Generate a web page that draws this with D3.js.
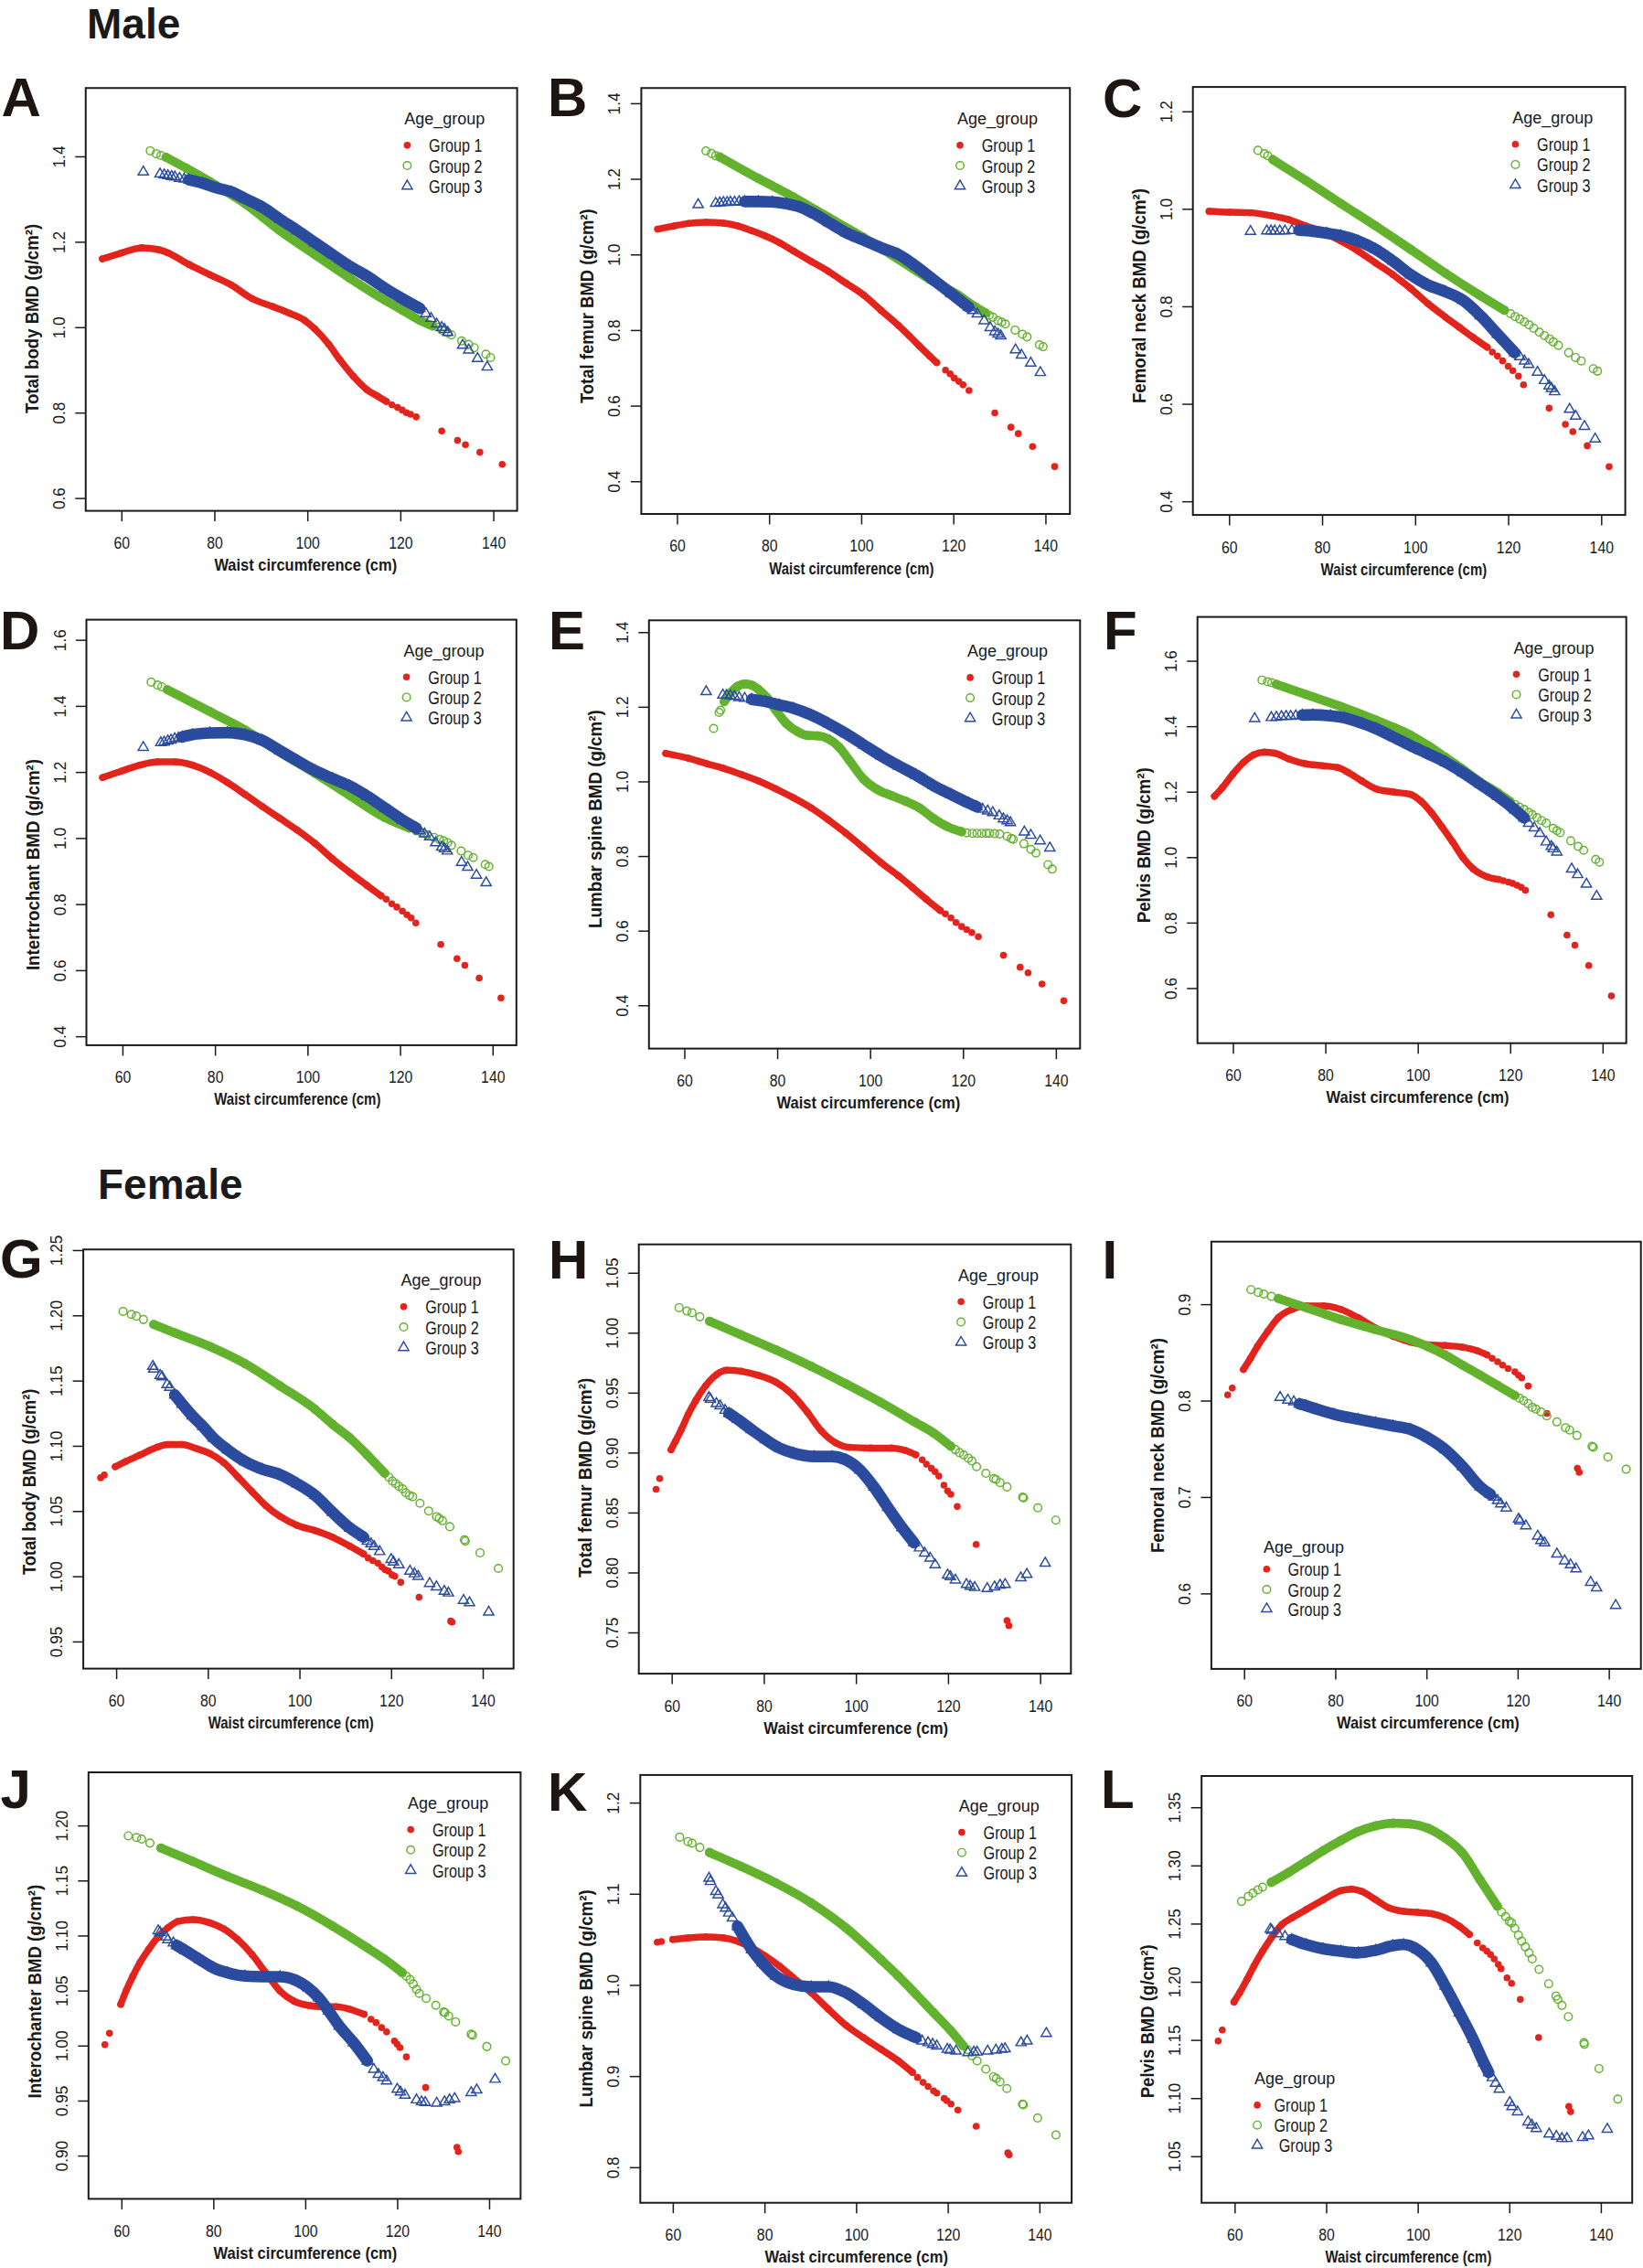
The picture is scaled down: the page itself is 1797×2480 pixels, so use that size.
<!DOCTYPE html>
<html>
<head>
<meta charset="utf-8">
<script src="https://cdn.jsdelivr.net/npm/d3@7"></script>
<style>
body { margin: 0; background: #fff; }
text { font-family: "Liberation Sans", Arial, sans-serif; fill: #1a1a1a; }
</style>
</head>
<body>
<div id="chart-area"></div>
<script>
// ---- data: [waist (cm), BMD (g/cm2)] ----
const xTicks = [60, 80, 100, 120, 140];
const groupNames = ["Group 1", "Group 2", "Group 3"];

// Male
const A_g1 = [[55.9,1.160],[60.0,1.174],[64.4,1.186],[67.8,1.182],[70.0,1.174],[74.5,1.147],[79.0,1.123],[83.6,1.099],[88.1,1.067],[92.6,1.048],[96.3,1.032],[99.4,1.016],[101.6,0.996],[104.6,0.960],[106.9,0.925],[109.9,0.885],[112.9,0.853],[115.2,0.838],[117.0,0.826],[118.2,0.818],[119.4,0.812],[120.4,0.806],[121.3,0.800],[122.2,0.796],[123.4,0.790],[128.9,0.757],[132.3,0.735],[134.0,0.725],[137.1,0.707],[141.9,0.679]];
const A_g2 = [[66.2,1.413],[67.5,1.406],[68.5,1.402],[69.6,1.398],[74.0,1.372],[79.0,1.341],[86.6,1.289],[94.1,1.226],[101.6,1.170],[109.1,1.115],[116.7,1.063],[120.4,1.040],[124.2,1.016],[127.0,1.003],[128.0,1.000],[129.0,0.993],[130.2,0.987],[131.0,0.982],[133.2,0.968],[134.7,0.960],[135.9,0.952],[138.4,0.937],[139.4,0.929]];
const A_g3 = [[64.7,1.364],[68.3,1.359],[69.2,1.357],[70.0,1.355],[70.8,1.353],[71.5,1.352],[72.5,1.349],[73.5,1.347],[74.5,1.345],[77.5,1.337],[80.5,1.326],[83.6,1.317],[86.6,1.301],[90.3,1.281],[94.1,1.253],[97.9,1.226],[101.6,1.198],[105.4,1.170],[109.1,1.143],[112.9,1.119],[116.7,1.091],[120.4,1.067],[124.2,1.044],[125.5,1.032],[126.6,1.021],[127.8,1.008],[128.9,1.000],[129.5,0.995],[130.2,0.988],[133.4,0.958],[134.7,0.947],[136.6,0.927],[138.7,0.907]];
const A_dense = [[55.9,117.0],[69.6,127.0],[74.5,124.2]];
const A_yt = [0.6,0.8,1.0,1.2,1.4];

const B_g1 = [[55.8,1.067],[59.5,1.076],[62.5,1.082],[66.3,1.085],[70.1,1.083],[73.1,1.076],[76.2,1.063],[79.2,1.049],[82.3,1.031],[85.3,1.009],[89.1,0.982],[92.9,0.955],[96.7,0.924],[100.5,0.893],[104.3,0.852],[108.1,0.812],[110.4,0.785],[112.6,0.758],[114.9,0.731],[116.4,0.714],[118.3,0.694],[119.3,0.684],[120.2,0.673],[121.2,0.664],[122.1,0.655],[123.4,0.640],[129.0,0.581],[132.5,0.543],[134.1,0.526],[137.2,0.492],[142.0,0.439]];
const B_g2 = [[66.3,1.274],[67.5,1.267],[68.4,1.261],[69.3,1.258],[77.7,1.201],[85.3,1.152],[92.9,1.098],[100.5,1.045],[108.1,0.987],[115.7,0.928],[121.0,0.893],[124.8,0.861],[127.0,0.845],[127.8,0.839],[128.6,0.834],[129.7,0.825],[130.5,0.821],[131.3,0.816],[133.4,0.800],[135.0,0.789],[136.0,0.782],[138.7,0.761],[139.5,0.756]];
const B_g3 = [[64.6,1.132],[68.4,1.136],[69.3,1.137],[70.1,1.138],[70.9,1.138],[71.6,1.139],[72.5,1.139],[73.5,1.140],[74.7,1.140],[77.7,1.140],[80.7,1.139],[83.8,1.134],[86.8,1.125],[89.9,1.107],[92.9,1.085],[96.7,1.058],[100.5,1.038],[104.3,1.018],[108.1,1.000],[111.9,0.969],[115.7,0.933],[119.5,0.897],[123.3,0.861],[124.2,0.852],[125.2,0.843],[126.7,0.825],[128.0,0.807],[129.0,0.796],[129.7,0.790],[130.3,0.785],[133.5,0.748],[134.8,0.734],[136.8,0.713],[138.9,0.688]];
const B_dense = [[55.8,116.4],[69.3,127.0],[74.7,123.3]];
const B_yt = [0.4,0.6,0.8,1.0,1.2,1.4];

const C_g1 = [[55.7,0.995],[60.1,0.993],[64.6,0.992],[69.1,0.986],[72.8,0.978],[76.5,0.965],[80.3,0.952],[84.0,0.934],[87.8,0.913],[91.5,0.889],[95.2,0.865],[99.0,0.837],[102.7,0.806],[106.5,0.778],[109.5,0.757],[112.5,0.736],[115.5,0.716],[116.6,0.706],[117.7,0.698],[118.8,0.688],[120.0,0.677],[121.0,0.668],[122.2,0.657],[123.3,0.639],[128.8,0.591],[132.3,0.558],[133.9,0.543],[137.0,0.514],[141.7,0.471]];
const C_g2 = [[66.2,1.120],[67.6,1.113],[68.3,1.109],[69.4,1.101],[76.5,1.058],[84.0,1.011],[91.5,0.965],[99.0,0.917],[106.5,0.868],[114.0,0.822],[119.2,0.792],[120.5,0.785],[121.5,0.779],[122.5,0.774],[123.5,0.768],[124.5,0.762],[125.5,0.755],[126.7,0.747],[127.8,0.740],[128.9,0.733],[129.7,0.727],[130.8,0.720],[133.0,0.705],[134.5,0.695],[135.7,0.688],[138.3,0.672],[139.2,0.667]];
const C_g3 = [[64.6,0.954],[68.1,0.955],[69.0,0.955],[69.8,0.955],[70.9,0.955],[72.0,0.955],[73.5,0.956],[75.0,0.956],[78.0,0.954],[81.0,0.950],[84.0,0.945],[87.8,0.934],[91.5,0.917],[95.2,0.893],[99.0,0.865],[102.7,0.844],[106.5,0.830],[110.2,0.813],[114.0,0.781],[117.7,0.743],[121.4,0.705],[122.5,0.697],[123.5,0.688],[124.4,0.681],[126.3,0.665],[127.8,0.648],[128.8,0.637],[129.3,0.632],[130.0,0.625],[133.2,0.589],[134.5,0.575],[136.4,0.554],[138.7,0.528]];
const C_dense = [[55.7,115.5],[69.4,119.2],[75.0,121.4]];
const C_yt = [0.4,0.6,0.8,1.0,1.2];

const D_g1 = [[55.7,1.183],[60.0,1.204],[63.8,1.221],[67.6,1.231],[71.3,1.231],[75.1,1.221],[78.9,1.199],[82.7,1.168],[86.5,1.132],[90.2,1.096],[94.0,1.060],[97.8,1.024],[101.6,0.984],[105.4,0.937],[109.1,0.896],[112.9,0.856],[115.9,0.825],[117.0,0.815],[118.2,0.801],[119.3,0.791],[120.5,0.779],[121.5,0.768],[122.4,0.758],[123.4,0.743],[128.8,0.678],[132.3,0.635],[134.0,0.615],[137.1,0.576],[141.8,0.516]];
const D_g2 = [[66.2,1.472],[67.6,1.463],[68.5,1.458],[69.7,1.449],[78.9,1.383],[86.5,1.327],[94.0,1.260],[101.6,1.196],[109.1,1.129],[116.7,1.062],[122.0,1.030],[123.5,1.022],[124.7,1.016],[125.8,1.010],[127.3,1.002],[128.5,0.996],[129.4,0.992],[130.3,0.986],[131.1,0.978],[133.2,0.961],[134.7,0.948],[135.8,0.941],[138.4,0.920],[139.2,0.914]];
const D_g3 = [[64.5,1.275],[68.3,1.289],[69.0,1.291],[69.8,1.294],[70.5,1.297],[71.3,1.301],[72.1,1.303],[72.9,1.306],[75.1,1.313],[78.9,1.318],[82.7,1.319],[86.5,1.313],[90.2,1.296],[94.0,1.265],[97.8,1.234],[101.6,1.204],[105.4,1.180],[109.1,1.158],[112.9,1.127],[116.7,1.091],[120.5,1.055],[123.5,1.030],[124.3,1.022],[125.3,1.013],[126.4,1.004],[127.7,0.986],[129.0,0.973],[129.6,0.968],[130.2,0.961],[133.3,0.927],[134.6,0.912],[136.5,0.888],[138.6,0.865]];
const D_dense = [[55.7,115.9],[69.7,122.0],[72.9,123.5]];
const D_yt = [0.4,0.6,0.8,1.0,1.2,1.4,1.6];

const E_g1 = [[56.0,1.075],[60.9,1.062],[64.7,1.048],[68.4,1.035],[72.2,1.019],[76.0,1.001],[79.7,0.980],[83.5,0.956],[87.3,0.929],[91.0,0.897],[94.8,0.861],[98.6,0.822],[102.3,0.783],[106.1,0.747],[109.1,0.716],[112.1,0.684],[115.1,0.654],[116.2,0.645],[117.4,0.634],[118.5,0.622],[119.7,0.611],[120.8,0.603],[121.9,0.595],[123.3,0.584],[128.7,0.534],[132.3,0.502],[134.0,0.487],[137.0,0.457],[141.7,0.412]];
const E_g2 = [[66.3,1.142],[67.5,1.185],[67.8,1.191],[68.6,1.214],[69.6,1.232],[71.5,1.255],[73.0,1.261],[74.5,1.258],[76.0,1.246],[77.9,1.223],[79.7,1.191],[82.0,1.155],[84.3,1.134],[86.5,1.123],[88.8,1.122],[91.0,1.114],[93.3,1.092],[95.6,1.055],[98.6,1.006],[101.6,0.978],[104.6,0.962],[107.6,0.947],[110.6,0.929],[113.6,0.901],[116.6,0.879],[119.7,0.865],[120.8,0.862],[122.0,0.861],[123.0,0.861],[124.0,0.861],[125.0,0.861],[125.7,0.861],[126.8,0.860],[127.9,0.859],[129.5,0.853],[130.4,0.847],[130.8,0.845],[133.1,0.833],[134.6,0.818],[135.7,0.808],[138.3,0.777],[139.2,0.765]];
const E_g3 = [[64.7,1.241],[68.3,1.232],[69.1,1.231],[69.9,1.230],[70.8,1.228],[71.8,1.225],[73.0,1.223],[74.5,1.220],[77.5,1.214],[80.5,1.205],[83.5,1.196],[87.3,1.178],[91.0,1.155],[94.8,1.128],[98.6,1.098],[102.3,1.069],[106.1,1.042],[109.9,1.017],[113.6,0.989],[117.4,0.965],[121.2,0.942],[123.0,0.932],[124.2,0.926],[125.3,0.921],[126.4,0.917],[127.8,0.908],[128.7,0.900],[129.5,0.895],[130.2,0.890],[133.2,0.865],[134.6,0.856],[136.6,0.841],[138.7,0.822]];
const E_dense = [[56.0,115.1],[68.6,119.7],[74.5,123.0]];
const E_yt = [0.4,0.6,0.8,1.0,1.2,1.4];

const F_g1 = [[56.0,1.186],[57.7,1.212],[60.0,1.254],[62.3,1.290],[64.5,1.313],[66.8,1.321],[69.0,1.318],[72.1,1.300],[75.8,1.285],[79.6,1.279],[82.6,1.274],[84.9,1.259],[87.9,1.233],[90.9,1.209],[94.7,1.199],[98.4,1.192],[100.7,1.171],[103.0,1.135],[105.2,1.093],[107.5,1.047],[109.7,1.000],[112.0,0.964],[115.0,0.940],[117.5,0.932],[118.5,0.928],[119.6,0.924],[120.5,0.920],[121.5,0.914],[122.4,0.908],[123.3,0.899],[128.8,0.824],[132.3,0.762],[134.0,0.731],[137.0,0.669],[141.9,0.576]];
const F_g2 = [[66.3,1.541],[67.5,1.536],[68.4,1.533],[69.4,1.528],[75.8,1.497],[83.4,1.460],[90.9,1.419],[98.4,1.373],[102.2,1.341],[106.0,1.305],[109.7,1.269],[113.5,1.230],[117.3,1.197],[120.0,1.170],[121.0,1.161],[122.0,1.153],[123.0,1.146],[124.0,1.137],[124.8,1.130],[125.8,1.121],[126.8,1.112],[127.8,1.104],[129.3,1.088],[130.1,1.081],[130.8,1.075],[133.1,1.050],[134.7,1.033],[135.9,1.021],[138.5,0.993],[139.3,0.985]];
const F_g3 = [[64.7,1.424],[68.3,1.427],[69.4,1.428],[70.5,1.430],[71.5,1.431],[72.5,1.431],[73.6,1.432],[75.0,1.434],[77.3,1.435],[81.1,1.432],[84.1,1.426],[87.9,1.409],[90.9,1.393],[94.7,1.367],[98.4,1.341],[102.2,1.316],[106.0,1.290],[109.7,1.259],[113.5,1.223],[117.3,1.186],[121.0,1.145],[123.0,1.120],[124.0,1.104],[125.2,1.090],[126.4,1.073],[127.8,1.047],[128.9,1.033],[129.3,1.026],[130.1,1.016],[133.3,0.964],[134.6,0.947],[136.5,0.918],[138.7,0.881]];
const F_dense = [[56.0,117.5],[69.4,120.0],[75.0,123.0]];
const F_yt = [0.6,0.8,1.0,1.2,1.4,1.6];

// Female
const G_g1 = [[56.6,1.0755],[57.4,1.0776],[59.8,1.084],[62.1,1.088],[65.2,1.093],[69.0,1.099],[71.3,1.101],[74.4,1.101],[77.4,1.098],[80.5,1.094],[83.5,1.087],[86.6,1.076],[89.6,1.065],[92.7,1.054],[95.7,1.046],[99.5,1.039],[103.4,1.035],[107.2,1.030],[111.0,1.023],[114.0,1.017],[115.0,1.014],[116.0,1.012],[117.1,1.010],[118.0,1.007],[118.7,1.005],[119.4,1.004],[120.2,1.001],[120.8,1.000],[122.1,0.9954],[126.1,0.984],[133.0,0.9656],[133.3,0.9648]];
const G_g2 = [[61.5,1.203],[63.3,1.2007],[64.4,1.1994],[65.95,1.1968],[68.2,1.193],[72.8,1.1865],[80.5,1.176],[88.1,1.163],[95.7,1.146],[103.4,1.128],[107.2,1.1165],[111.0,1.106],[114.8,1.093],[118.6,1.079],[119.5,1.076],[120.3,1.073],[121.0,1.071],[121.7,1.069],[122.5,1.067],[123.2,1.064],[124.0,1.062],[124.7,1.061],[126.3,1.056],[128.2,1.050],[129.9,1.0457],[130.5,1.0444],[131.2,1.0426],[132.8,1.038],[136.0,1.028],[136.2,1.027],[139.4,1.018],[143.4,1.006]];
const G_g3 = [[68.0,1.161],[68.2,1.159],[69.6,1.154],[70.0,1.153],[71.1,1.147],[71.7,1.145],[72.8,1.139],[74.4,1.132],[76.6,1.123],[78.9,1.115],[81.2,1.106],[84.3,1.097],[88.1,1.088],[91.9,1.082],[95.7,1.078],[99.5,1.071],[103.4,1.062],[107.2,1.049],[111.0,1.037],[114.0,1.030],[114.8,1.027],[115.6,1.025],[116.3,1.023],[117.5,1.019],[120.0,1.013],[120.5,1.011],[121.7,1.009],[124.1,1.004],[125.1,1.002],[125.9,1.000],[128.4,0.9946],[129.9,0.992],[131.6,0.9886],[132.5,0.9873],[135.8,0.9816],[137.1,0.9798],[141.3,0.9726]];
const G_dense = [[59.8,114.0],[68.2,118.6],[72.8,114.0]];
const G_yt = [0.95,1.00,1.05,1.10,1.15,1.20,1.25];

const H_g1 = [[56.6,0.8694],[57.4,0.8784],[59.85,0.9024],[60.8,0.9095],[62.1,0.9193],[63.6,0.932],[65.2,0.9433],[67.4,0.956],[69.7,0.965],[72.0,0.9687],[75.0,0.9679],[78.8,0.9645],[82.6,0.9589],[86.4,0.9476],[89.5,0.9335],[92.5,0.918],[95.6,0.9081],[98.6,0.9044],[103.2,0.9038],[107.7,0.9038],[110.7,0.9018],[113.0,0.8982],[114.4,0.894],[115.3,0.8903],[116.4,0.8869],[117.2,0.8841],[118.0,0.8804],[119.1,0.8728],[119.9,0.868],[120.6,0.8652],[122.0,0.855],[126.1,0.8234],[132.8,0.7599],[133.2,0.7557]];
const H_g2 = [[61.6,1.0209],[63.3,1.0181],[64.4,1.0167],[66.1,1.0133],[68.2,1.0096],[75.0,0.9984],[82.6,0.9857],[90.2,0.9721],[97.8,0.9574],[105.4,0.9419],[113.0,0.925],[116.8,0.9165],[120.6,0.9052],[121.6,0.9025],[122.5,0.900],[123.4,0.898],[124.4,0.8954],[125.2,0.893],[126.2,0.8883],[128.2,0.8827],[129.9,0.8784],[130.4,0.8776],[131.3,0.875],[132.8,0.8714],[136.2,0.8629],[136.4,0.8621],[139.5,0.8539],[143.4,0.8437]];
const H_g3 = [[68.1,0.9461],[68.4,0.9447],[69.7,0.941],[70.5,0.9391],[71.6,0.9354],[72.4,0.9329],[74.3,0.9278],[77.3,0.9193],[80.4,0.9109],[83.4,0.9038],[86.4,0.8996],[91.0,0.8968],[94.8,0.8968],[97.8,0.894],[100.9,0.8855],[103.9,0.8714],[106.9,0.8544],[110.0,0.8375],[112.6,0.8248],[113.8,0.8206],[114.9,0.8163],[116.1,0.8121],[117.2,0.8065],[119.9,0.798],[120.5,0.7966],[121.6,0.7938],[124.0,0.7901],[124.8,0.7887],[125.8,0.7876],[128.5,0.7867],[130.1,0.7881],[131.3,0.7895],[132.4,0.7901],[135.8,0.7957],[137.1,0.7986],[141.1,0.8079]];
const H_dense = [[59.85,113.0],[68.2,120.6],[72.4,112.6]];
const H_yt = [0.75,0.80,0.85,0.90,0.95,1.00,1.05];

const I_g1 = [[56.4,0.806],[57.4,0.813],[59.85,0.8323],[61.4,0.8439],[62.9,0.8561],[65.2,0.8719],[67.5,0.886],[70.5,0.8947],[73.6,0.8982],[77.4,0.8982],[81.2,0.8947],[85.0,0.886],[88.8,0.8754],[92.7,0.8667],[96.5,0.8607],[100.3,0.8579],[104.1,0.8572],[107.9,0.8554],[111.0,0.8519],[113.3,0.8474],[114.4,0.8439],[115.6,0.8403],[116.7,0.8368],[117.9,0.8333],[119.4,0.8298],[120.2,0.8263],[120.9,0.8235],[122.3,0.8151],[126.4,0.7867],[133.1,0.7298],[133.5,0.7256]];
const I_g2 = [[61.5,0.9151],[63.1,0.9123],[64.3,0.9105],[66.0,0.9081],[67.5,0.906],[73.6,0.8965],[81.2,0.8842],[88.8,0.8737],[96.5,0.8632],[100.3,0.8561],[104.1,0.8474],[107.9,0.8368],[111.8,0.8263],[115.6,0.8158],[119.4,0.8053],[120.4,0.8025],[121.3,0.800],[122.3,0.797],[123.2,0.793],[124.0,0.7912],[125.1,0.7884],[126.4,0.7842],[128.6,0.7779],[130.5,0.7719],[131.4,0.7695],[133.0,0.7639],[136.3,0.7526],[136.6,0.7516],[139.8,0.7414],[143.8,0.7288]];
const I_g3 = [[67.9,0.8035],[69.6,0.8007],[70.9,0.7989],[72.1,0.7965],[73.6,0.7947],[75.9,0.7912],[79.7,0.786],[85.0,0.7807],[88.8,0.7772],[92.7,0.7737],[96.5,0.7702],[100.3,0.7614],[104.1,0.7491],[107.9,0.7316],[111.8,0.7105],[114.0,0.7028],[114.8,0.700],[115.6,0.6965],[116.3,0.693],[117.5,0.6888],[120.2,0.6772],[120.5,0.6754],[121.8,0.6702],[124.4,0.6596],[125.1,0.6551],[125.9,0.6526],[128.6,0.641],[130.3,0.634],[131.6,0.6298],[132.8,0.6256],[136.0,0.6116],[137.3,0.6059],[141.5,0.5877]];
const I_dense = [[59.85,113.3],[67.5,119.4],[72.1,114.0]];
const I_yt = [0.6,0.7,0.8,0.9];

const J_g1 = [[56.4,1.0009],[57.4,1.0112],[59.85,1.0375],[61.0,1.0496],[62.5,1.0632],[64.0,1.0752],[65.9,1.0873],[67.8,1.0979],[70.1,1.107],[72.4,1.113],[75.5,1.1145],[79.3,1.1115],[82.3,1.106],[85.3,1.0964],[88.4,1.0828],[91.4,1.0662],[94.5,1.0496],[97.5,1.0405],[100.6,1.0366],[103.6,1.0354],[106.7,1.0354],[109.7,1.033],[112.8,1.0284],[114.3,1.0239],[115.4,1.0209],[116.6,1.0163],[117.7,1.0124],[119.4,1.0042],[120.0,1.0012],[120.6,0.9982],[122.0,0.9897],[126.2,0.9619],[133.0,0.9076],[133.3,0.9036]];
const J_g2 = [[61.5,1.1906],[63.3,1.1891],[64.4,1.1876],[66.2,1.184],[68.6,1.1795],[75.5,1.1674],[83.1,1.1538],[90.7,1.1411],[98.3,1.1266],[106.0,1.1085],[113.5,1.0888],[117.3,1.0783],[121.1,1.0662],[122.0,1.063],[122.8,1.060],[123.5,1.056],[124.2,1.0511],[124.8,1.0474],[126.3,1.0429],[128.4,1.0366],[130.1,1.0305],[130.4,1.0299],[131.2,1.0269],[132.7,1.0215],[136.1,1.0103],[136.4,1.0094],[139.5,0.9991],[143.6,0.9861]];
const J_g3 = [[68.0,1.1045],[68.4,1.103],[69.7,1.0988],[70.1,1.0964],[71.3,1.0934],[72.0,1.091],[73.9,1.0864],[77.0,1.0783],[80.0,1.0707],[83.1,1.0662],[86.9,1.0632],[90.7,1.0626],[94.5,1.0626],[98.3,1.0586],[100.6,1.0526],[102.9,1.0435],[105.1,1.0314],[107.4,1.0178],[110.5,1.0027],[113.5,0.9861],[114.9,0.9786],[115.9,0.974],[116.9,0.971],[117.7,0.968],[120.0,0.9604],[120.7,0.958],[121.7,0.955],[124.2,0.9508],[125.3,0.949],[126.1,0.9484],[128.6,0.9478],[130.3,0.949],[131.4,0.9508],[132.5,0.952],[136.1,0.9574],[137.3,0.9598],[141.3,0.9695]];
const J_dense = [[59.85,112.8],[68.6,121.1],[72.0,113.5]];
const J_yt = [0.90,0.95,1.00,1.05,1.10,1.15,1.20];

const K_g1 = [[56.6,1.0469],[57.5,1.0476],[60.0,1.0498],[63.4,1.0516],[67.3,1.0527],[71.1,1.0516],[74.1,1.048],[77.2,1.0407],[80.2,1.0316],[83.3,1.0206],[86.3,1.0079],[90.2,0.9915],[94.0,0.9732],[97.8,0.9557],[101.6,0.9422],[105.4,0.9295],[109.2,0.9167],[112.3,0.904],[113.4,0.8985],[114.6,0.893],[115.7,0.8886],[116.9,0.8839],[117.6,0.8813],[119.2,0.8755],[119.8,0.873],[120.7,0.8693],[122.2,0.8627],[126.2,0.8449],[133.1,0.8157],[133.4,0.8135]];
const K_g2 = [[61.5,1.1621],[63.3,1.1573],[64.2,1.1555],[65.9,1.1508],[68.0,1.1453],[74.9,1.130],[82.5,1.1118],[90.2,1.0899],[97.8,1.0625],[105.4,1.0279],[109.2,1.0097],[113.1,0.9896],[116.9,0.9696],[120.7,0.9495],[123.4,0.9331],[124.3,0.929],[125.3,0.9222],[126.4,0.9167],[128.3,0.9076],[130.0,0.8992],[130.6,0.8974],[131.4,0.8937],[132.9,0.8864],[136.3,0.8693],[136.5,0.8686],[139.6,0.854],[143.6,0.8354]];
const K_g3 = [[67.9,1.1172],[68.2,1.1136],[69.4,1.1026],[69.9,1.099],[70.9,1.0881],[71.5,1.0844],[72.2,1.079],[73.0,1.0735],[74.1,1.0644],[75.6,1.0516],[77.2,1.0388],[79.5,1.0243],[82.5,1.0097],[86.3,1.0006],[90.2,0.998],[94.0,0.998],[97.8,0.9915],[101.6,0.9787],[105.4,0.9641],[109.2,0.9513],[113.1,0.9422],[114.4,0.9386],[115.7,0.9368],[116.7,0.935],[117.6,0.9331],[119.9,0.9295],[120.5,0.9287],[121.8,0.9276],[124.4,0.9258],[125.7,0.9265],[126.4,0.9265],[128.7,0.9276],[130.5,0.9287],[131.8,0.9295],[132.5,0.9302],[136.0,0.9368],[137.3,0.9386],[141.5,0.947]];
const K_dense = [[60.0,112.3],[68.0,123.4],[74.1,113.1]];
const K_yt = [0.8,0.9,1.0,1.1,1.2];

const L_g1 = [[56.4,1.1491],[57.3,1.1586],[59.85,1.1826],[61.1,1.1906],[62.7,1.202],[64.2,1.2134],[66.1,1.2263],[68.0,1.2377],[70.3,1.2491],[72.5,1.2549],[75.6,1.262],[79.4,1.2706],[83.2,1.2783],[85.5,1.2797],[87.8,1.2777],[90.8,1.2706],[93.8,1.2634],[96.9,1.2606],[99.9,1.2597],[103.0,1.2586],[106.0,1.2549],[109.1,1.2477],[111.3,1.2406],[113.0,1.2334],[114.2,1.2291],[115.1,1.2263],[115.9,1.2234],[116.7,1.2197],[117.6,1.2149],[118.2,1.2112],[119.5,1.2034],[120.5,1.1986],[122.4,1.1849],[126.4,1.152],[133.0,1.0929],[133.4,1.0883]];
const L_g2 = [[61.5,1.2691],[63.0,1.2734],[64.0,1.2763],[65.1,1.2791],[66.1,1.2814],[68.0,1.2854],[71.8,1.294],[75.6,1.3034],[79.4,1.3129],[83.2,1.3214],[87.0,1.3291],[90.8,1.334],[94.6,1.3363],[98.4,1.3357],[102.2,1.332],[106.0,1.3234],[109.8,1.3106],[113.6,1.2877],[117.4,1.2649],[118.3,1.260],[119.2,1.256],[120.0,1.252],[120.5,1.2506],[121.2,1.246],[122.0,1.240],[122.7,1.2349],[123.5,1.230],[124.3,1.2249],[125.0,1.2197],[126.5,1.2106],[128.6,1.1983],[130.2,1.1877],[130.6,1.1849],[131.5,1.1797],[132.9,1.170],[136.3,1.1477],[136.4,1.1463],[139.6,1.1254],[143.7,1.0991]];
const L_g3 = [[67.8,1.2454],[68.1,1.2443],[69.5,1.2414],[71.0,1.2391],[72.5,1.2363],[75.6,1.232],[79.4,1.2283],[83.2,1.2263],[87.0,1.2249],[90.8,1.2271],[94.6,1.2311],[96.9,1.232],[99.9,1.2277],[103.0,1.2163],[106.0,1.1963],[109.1,1.1734],[112.1,1.1506],[114.4,1.1306],[115.5,1.122],[116.3,1.1177],[117.0,1.1129],[117.8,1.1077],[120.1,1.0963],[120.6,1.0929],[121.8,1.0883],[124.1,1.0797],[124.9,1.0769],[125.9,1.074],[128.7,1.0692],[130.3,1.0672],[131.5,1.0654],[132.6,1.0654],[136.0,1.0663],[137.3,1.0677],[141.4,1.0734]];
const L_dense = [[59.85,111.3],[68.0,117.4],[72.5,115.5]];
const L_yt = [1.05,1.10,1.15,1.20,1.25,1.30,1.35];

// ---- layout (pixel geometry of each panel) ----
const width = 1797, height = 2480;
const colors = ["#e2241c", "#63b22e", "#2b4b9f"];
const bandW = [7.5, 9.8, 12.6];

const panels = [
  {id: "A", f: [93.75, 96.25, 565.6, 558.6], xd: [52.32, 145.12], yd: [0.570, 1.560], yt: A_yt, fmt: ".1f", s: [A_g1, A_g2, A_g3], dense: A_dense,
   ylab: "Total body BMD (g/cm²)", ytc: 348.5, ytl: 207.2, xtc: 334.3, xtl: 199.7, leg: "tr", lt: [1.5, 127.3]},
  {id: "B", f: [701.4, 96.25, 1170.2, 562.0], xd: [52.25, 145.31], yd: [0.3135, 1.4403], yt: B_yt, fmt: ".1f", s: [B_g1, B_g2, B_g3], dense: B_dense,
   ylab: "Total femur BMD (g/cm²)", ytc: 334.7, ytl: 212.7, xtc: 931.4, xtl: 180.2, leg: "tr", lt: [599, 127.3]},
  {id: "C", f: [1304.7, 95.1, 1777.6, 563.1], xd: [52.22, 145.17], yd: [0.372, 1.250], yt: C_yt, fmt: ".1f", s: [C_g1, C_g2, C_g3], dense: C_dense,
   ylab: "Femoral neck BMD (g/cm²)", ytc: 323.6, ytl: 234.9, xtc: 1535.4, xtl: 181.6, leg: "tr", lt: [1206, 128.4]},
  {id: "D", f: [94.5, 677.6, 564.8, 1142.9], xd: [52.21, 145.14], yd: [0.373, 1.661], yt: D_yt, fmt: ".1f", s: [D_g1, D_g2, D_g3], dense: D_dense,
   ylab: "Intertrochant BMD (g/cm²)", ytc: 945.5, ytl: 231.2, xtc: 325.3, xtl: 182.2, leg: "tr", lt: [0, 709.7]},
  {id: "E", f: [709.8, 678.3, 1181.3, 1146.6], xd: [52.39, 145.2], yd: [0.284, 1.4317], yt: E_yt, fmt: ".1f", s: [E_g1, E_g2, E_g3], dense: E_dense,
   ylab: "Lumbar spine BMD (g/cm²)", ytc: 895.6, ytl: 238.6, xtc: 949.9, xtl: 200.9, leg: "tr", lt: [600, 709.7]},
  {id: "F", f: [1309.7, 674.6, 1778.7, 1140.7], xd: [52.32, 145.12], yd: [0.4316, 1.734], yt: F_yt, fmt: ".1f", s: [F_g1, F_g2, F_g3], dense: F_dense,
   ylab: "Pelvis BMD (g/cm²)", ytc: 924.3, ytl: 170.1, xtc: 1550.5, xtl: 199.9, leg: "tr", lt: [1207, 709.7]},
  {id: "G", f: [91.1, 1366.25, 561.7, 1824.6], xd: [52.82, 146.72], yd: [0.9292, 1.2505], yt: G_yt, fmt: ".2f", s: [G_g1, G_g2, G_g3], dense: G_dense,
   ylab: "Total body BMD (g/cm²)", ytc: 1620.4, ytl: 203.4, xtc: 318.2, xtl: 181, leg: "tr", lt: [0, 1397.3]},
  {id: "H", f: [698.7, 1360.7, 1171.3, 1830.1], xd: [52.86, 146.68], yd: [0.7156, 1.0737], yt: H_yt, fmt: ".2f", s: [H_g1, H_g2, H_g3], dense: H_dense,
   ylab: "Total femur BMD (g/cm²)", ytc: 1615.9, ytl: 218.3, xtc: 936.2, xtl: 201.7, leg: "tr", lt: [600, 1398.4]},
  {id: "I", f: [1324.9, 1357.7, 1794.7, 1824.9], xd: [52.82, 147.03], yd: [0.5217, 0.9649], yt: I_yt, fmt: ".1f", s: [I_g1, I_g2, I_g3], dense: I_dense,
   ylab: "Femoral neck BMD (g/cm²)", ytc: 1580.6, ytl: 234.9, xtc: 1561.9, xtl: 199.9, leg: "bl", lt: [1205.5, 1398.4]},
  {id: "J", f: [96.8, 1938.0, 569.4, 2404.4], xd: [52.84, 146.85], yd: [0.8607, 1.2483], yt: J_yt, fmt: ".2f", s: [J_g1, J_g2, J_g3], dense: J_dense,
   ylab: "Interochanter BMD (g/cm²)", ytc: 2177.7, ytl: 233.7, xtc: 333.9, xtl: 200.9, leg: "tr", lt: [0.5, 1977.3]},
  {id: "K", f: [700.3, 1940.9, 1172.1, 2408.7], xd: [52.9, 147.03], yd: [0.761, 1.2303], yt: K_yt, fmt: ".1f", s: [K_g1, K_g2, K_g3], dense: K_dense,
   ylab: "Lumbar spine BMD (g/cm²)", ytc: 2185.4, ytl: 238.1, xtc: 936.7, xtl: 200.5, leg: "tr", lt: [599, 1979.8]},
  {id: "L", f: [1314.2, 1942.0, 1785.2, 2408.7], xd: [52.78, 146.85], yd: [1.01, 1.3769], yt: L_yt, fmt: ".2f", s: [L_g1, L_g2, L_g3], dense: L_dense,
   ylab: "Pelvis BMD (g/cm²)", ytc: 2210.3, ytl: 168, xtc: 1540.4, xtl: 182, leg: "bl2", lt: [1204, 1977.3]}
];

let svg = d3.select("#chart-area")
  .append("svg")
  .attr("width", width)
  .attr("height", height)
  .style("display", "block");

svg.append("rect").attr("width", width).attr("height", height).attr("fill", "#fff");

// Section headings
svg.append("text").attr("x", 95).attr("y", 41.7).attr("font-size", 46).attr("font-weight", "bold").text("Male");
svg.append("text").attr("x", 107).attr("y", 1311).attr("font-size", 46).attr("font-weight", "bold").text("Female");

// one marker per group: filled dot, open circle, open triangle
function marker(sel, i) {
  if (i === 0) {
    sel.append("circle").attr("r", 3.8).attr("fill", colors[0]);
  } else if (i === 1) {
    sel.append("circle").attr("r", 4.3).attr("fill", "none")
      .attr("stroke", colors[1]).attr("stroke-width", 1.45);
  } else {
    sel.append("path").attr("d", "M0,-6.2L5.6,3.4L-5.6,3.4Z")
      .attr("fill", "none").attr("stroke", colors[2]).attr("stroke-width", 1.45);
  }
}

function drawPanel(p) {
  const [fx0, fy0, fx1, fy1] = p.f;
  const x = d3.scaleLinear().domain(p.xd).range([fx0, fx1]);
  const y = d3.scaleLinear().domain(p.yd).range([fy1, fy0]);
  const g = svg.append("g").attr("class", "panel-" + p.id);

  // data: dense stretch as a band of overlapping markers, then each point
  p.s.forEach((pts, i) => {
    const [d0, d1] = p.dense[i];
    const band = pts.filter(d => d[0] >= d0 && d[0] <= d1);
    g.append("path")
      .datum(band)
      .attr("d", d3.line().x(d => x(d[0])).y(d => y(d[1])).curve(d3.curveMonotoneX))
      .attr("fill", "none")
      .attr("stroke", colors[i])
      .attr("stroke-width", bandW[i])
      .attr("stroke-linecap", "round")
      .attr("stroke-linejoin", "round");

    g.selectAll(null)
      .data(pts)
      .enter()
      .append("g")
      .attr("transform", d => `translate(${x(d[0])},${y(d[1])})`)
      .each(function () { marker(d3.select(this), i); });
  });

  // frame
  g.append("rect")
    .attr("x", fx0).attr("y", fy0)
    .attr("width", fx1 - fx0).attr("height", fy1 - fy0)
    .attr("fill", "none").attr("stroke", "#1a1a1a").attr("stroke-width", 2);

  // axes
  const xAxis = d3.axisBottom(x).tickValues(xTicks).tickSize(11.5).tickFormat(d3.format("d"));
  const gx = g.append("g").attr("transform", `translate(0,${fy1})`).call(xAxis);
  gx.attr("font-size", null).attr("font-family", null);
  gx.select(".domain").remove();
  gx.selectAll("line").attr("stroke", "#1a1a1a").attr("stroke-width", 1.5);
  gx.selectAll("text")
    .attr("y", 41.5).attr("dy", null)
    .attr("font-size", 18.6)
    .attr("transform", "scale(0.85,1)")
    .attr("x", 0)
    .style("fill", "#1a1a1a");

  const yAxis = d3.axisLeft(y).tickValues(p.yt).tickSize(11.5).tickFormat(d3.format(p.fmt));
  const gy = g.append("g").attr("transform", `translate(${fx0},0)`).call(yAxis);
  gy.attr("font-size", null).attr("font-family", null);
  gy.select(".domain").remove();
  gy.selectAll("line").attr("stroke", "#1a1a1a").attr("stroke-width", 1.5);
  gy.selectAll("text")
    .attr("x", 0).attr("y", -23).attr("dy", null)
    .attr("text-anchor", "middle")
    .attr("font-size", 18.6)
    .attr("transform", "rotate(-90) scale(0.93,1)")
    .style("fill", "#1a1a1a");

  // axis titles
  g.append("text")
    .attr("text-anchor", "middle")
    .attr("x", p.xtc)
    .attr("y", fy1 + 65.5)
    .attr("font-size", 19)
    .attr("font-weight", "bold")
    .attr("textLength", p.xtl)
    .attr("lengthAdjust", "spacingAndGlyphs")
    .text("Waist circumference (cm)");

  g.append("text")
    .attr("text-anchor", "middle")
    .attr("transform", `translate(${fx0 - 52},${p.ytc}) rotate(-90)`)
    .attr("font-size", 19.3)
    .attr("font-weight", "bold")
    .attr("textLength", p.ytl)
    .attr("lengthAdjust", "spacingAndGlyphs")
    .text(p.ylab);

  // panel letter
  g.append("text")
    .attr("x", p.lt[0]).attr("y", p.lt[1])
    .attr("font-size", 60).attr("font-weight", "bold")
    .style("fill", "#1c1512")
    .text(p.id);

  // legend
  let tx, ty, mx, lx, rows;
  if (p.leg === "tr") {
    tx = fx1 - 123.3; ty = fy0 + 40; mx = fx1 - 120.2; lx = fx1 - 96.5;
    rows = [fy0 + 62.6, fy0 + 84.8, fy0 + 107];
  } else if (p.leg === "bl") {
    tx = fx0 + 57.1; ty = fy1 - 126.9; mx = fx0 + 60.5; lx = fx0 + 83.7;
    rows = [fy1 - 109.1, fy1 - 86.9, fy1 - 65.8];
  } else {
    tx = fx0 + 57.9; ty = fy1 - 129.7; mx = fx0 + 60.9; lx = fx0 + 79.2;
    rows = [fy1 - 106.8, fy1 - 85, fy1 - 63.2];
  }
  const lg = g.append("g").attr("class", "legend");
  lg.append("text").attr("x", tx).attr("y", ty).attr("font-size", 18).text("Age_group");
  groupNames.forEach((name, i) => {
    const m = lg.append("g").attr("transform", `translate(${mx},${rows[i]})`);
    marker(m, i);
    const shift = (p.leg === "bl2" && i === 2) ? 5.3 : 0;
    lg.append("text")
      .attr("transform", `translate(${lx + shift},${rows[i] + 7.5}) scale(0.81,1)`)
      .attr("font-size", 20)
      .text(name);
  });
}

panels.forEach(drawPanel);
</script>
</body>
</html>
